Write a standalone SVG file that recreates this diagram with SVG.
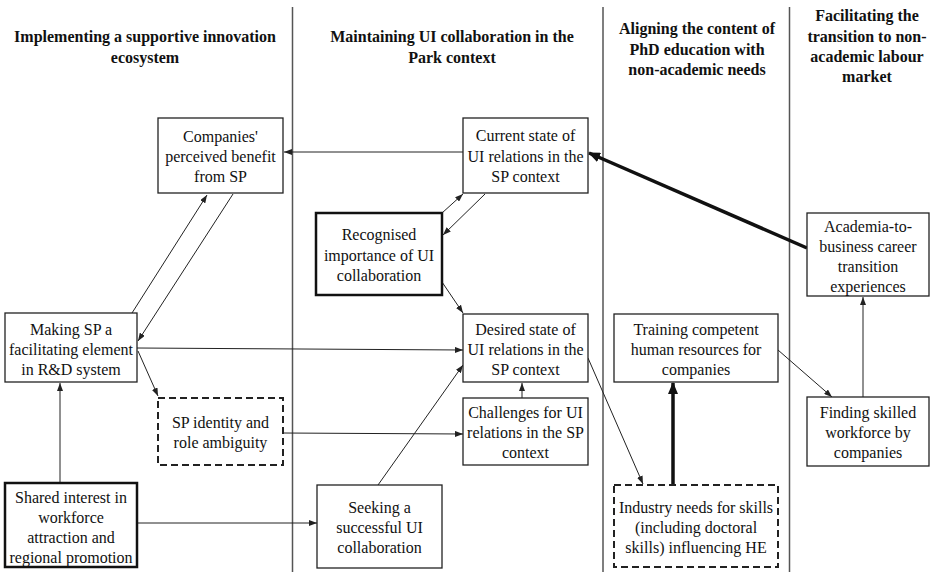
<svg xmlns="http://www.w3.org/2000/svg" width="930" height="572" viewBox="0 0 930 572">
<style>
.bg{fill:#fff}
.div{stroke:#555;stroke-width:1.5;fill:none}
.hd{font-family:"Liberation Serif","Times New Roman",serif;font-size:16px;font-weight:bold;fill:#111;text-anchor:middle}
.tx{font-family:"Liberation Serif","Times New Roman",serif;font-size:16px;fill:#111;text-anchor:middle}
.box{fill:#fff;stroke:#222;stroke-width:1.3}
.thick{fill:#fff;stroke:#111;stroke-width:2.5}
.dash{fill:#fff;stroke:#222;stroke-width:2;stroke-dasharray:7 4}
.ln{stroke:#222;stroke-width:1;fill:none;marker-end:url(#ah)}
.lnb{stroke:#111;stroke-width:3.5;fill:none;marker-end:url(#ahb)}
</style>
<defs>
<marker id="ah" markerUnits="userSpaceOnUse" markerWidth="8" markerHeight="6" refX="8" refY="3" orient="auto"><path d="M0,0 L8,3 L0,6 z" fill="#222"/></marker>
<marker id="ahb" markerUnits="userSpaceOnUse" markerWidth="12" markerHeight="10" refX="11" refY="5" orient="auto"><path d="M0,0 L12,5 L0,10 z" fill="#111"/></marker>
</defs>
<rect class="bg" x="0" y="0" width="930" height="572"/>
<g id="dividers">
<line class="div" x1="292.5" y1="7" x2="292.5" y2="572"/>
<line class="div" x1="603" y1="7" x2="603" y2="572"/>
<line class="div" x1="789.5" y1="7" x2="789.5" y2="572"/>
</g>
<g id="headers">
<text class="hd" x="145" y="42">Implementing a supportive innovation</text>
<text class="hd" x="145" y="63">ecosystem</text>
<text class="hd" x="452" y="42">Maintaining UI collaboration in the</text>
<text class="hd" x="452" y="63">Park context</text>
<text class="hd" x="697" y="34">Aligning the content of</text>
<text class="hd" x="697" y="55">PhD education with</text>
<text class="hd" x="697" y="75">non-academic needs</text>
<text class="hd" x="867" y="21">Facilitating the</text>
<text class="hd" x="867" y="42">transition to non-</text>
<text class="hd" x="867" y="62">academic labour</text>
<text class="hd" x="867" y="82">market</text>
</g>
<g id="connectors">
<line class="ln" x1="463" y1="152" x2="284" y2="152"/>
<line class="ln" x1="132" y1="313" x2="207" y2="195"/>
<line class="ln" x1="233" y1="194" x2="138" y2="341"/>
<line class="ln" x1="137" y1="348" x2="463" y2="350"/>
<line class="ln" x1="138" y1="351" x2="158" y2="396"/>
<line class="ln" x1="283" y1="433" x2="463" y2="434"/>
<line class="ln" x1="60" y1="483" x2="60" y2="383"/>
<line class="ln" x1="137" y1="523" x2="317" y2="523"/>
<line class="ln" x1="378" y1="485" x2="463" y2="365"/>
<line class="ln" x1="522" y1="398" x2="522" y2="383"/>
<line class="ln" x1="442" y1="282" x2="463" y2="313"/>
<line class="ln" x1="442" y1="213" x2="463" y2="194"/>
<line class="ln" x1="485" y1="194" x2="443" y2="235"/>
<line class="lnb" x1="807" y1="248" x2="589" y2="153"/>
<line class="ln" x1="863" y1="397" x2="863" y2="297"/>
<line class="ln" x1="778" y1="350" x2="832" y2="397"/>
<line class="lnb" x1="673" y1="485" x2="673" y2="383"/>
<line class="ln" x1="588" y1="358" x2="643" y2="484"/>
</g>
<g id="companies-benefit">
<rect class="box" x="158" y="118" width="125" height="75"/>
<text class="tx" x="220.5" y="142">Companies'</text>
<text class="tx" x="220.5" y="162">perceived benefit</text>
<text class="tx" x="220.5" y="182">from SP</text>
</g>
<g id="current-state">
<rect class="box" x="463" y="118" width="125" height="75"/>
<text class="tx" x="525.5" y="141">Current state of</text>
<text class="tx" x="525.5" y="162">UI relations in the</text>
<text class="tx" x="525.5" y="182">SP context</text>
</g>
<g id="recognised-importance">
<rect class="thick" x="316" y="213" width="126" height="82"/>
<text class="tx" x="379" y="240">Recognised</text>
<text class="tx" x="379" y="261">importance of UI</text>
<text class="tx" x="379" y="281">collaboration</text>
</g>
<g id="academia-business">
<rect class="box" x="807" y="213" width="122" height="83"/>
<text class="tx" x="868" y="232">Academia-to-</text>
<text class="tx" x="868" y="252">business career</text>
<text class="tx" x="868" y="272">transition</text>
<text class="tx" x="868" y="292">experiences</text>
</g>
<g id="making-sp">
<rect class="box" x="5" y="313" width="132" height="69"/>
<text class="tx" x="71" y="335">Making SP a</text>
<text class="tx" x="71" y="355">facilitating element</text>
<text class="tx" x="71" y="375">in R&amp;D system</text>
</g>
<g id="desired-state">
<rect class="box" x="463" y="314" width="125" height="68"/>
<text class="tx" x="525.5" y="335">Desired state of</text>
<text class="tx" x="525.5" y="355">UI relations in the</text>
<text class="tx" x="525.5" y="375">SP context</text>
</g>
<g id="training">
<rect class="box" x="614" y="314" width="164" height="68"/>
<text class="tx" x="696" y="335">Training competent</text>
<text class="tx" x="696" y="355">human resources for</text>
<text class="tx" x="696" y="375">companies</text>
</g>
<g id="sp-identity">
<rect class="dash" x="158" y="398" width="125" height="67"/>
<text class="tx" x="220.5" y="428">SP identity and</text>
<text class="tx" x="220.5" y="448">role ambiguity</text>
</g>
<g id="challenges">
<rect class="box" x="463" y="398" width="125" height="67"/>
<text class="tx" x="525.5" y="418">Challenges for UI</text>
<text class="tx" x="525.5" y="438">relations in the SP</text>
<text class="tx" x="525.5" y="458">context</text>
</g>
<g id="finding-workforce">
<rect class="box" x="807" y="397" width="122" height="69"/>
<text class="tx" x="868" y="418">Finding skilled</text>
<text class="tx" x="868" y="438">workforce by</text>
<text class="tx" x="868" y="458">companies</text>
</g>
<g id="shared-interest">
<rect class="thick" x="5" y="483" width="132" height="84"/>
<text class="tx" x="71" y="503">Shared interest in</text>
<text class="tx" x="71" y="523">workforce</text>
<text class="tx" x="71" y="543">attraction and</text>
<text class="tx" x="71" y="563">regional promotion</text>
</g>
<g id="seeking">
<rect class="box" x="317" y="485" width="125" height="83"/>
<text class="tx" x="379.5" y="513">Seeking a</text>
<text class="tx" x="379.5" y="533">successful UI</text>
<text class="tx" x="379.5" y="553">collaboration</text>
</g>
<g id="industry-needs">
<rect class="dash" x="614" y="485" width="164" height="82"/>
<text class="tx" x="696" y="513">Industry needs for skills</text>
<text class="tx" x="696" y="533">(including doctoral</text>
<text class="tx" x="696" y="553">skills) influencing HE</text>
</g>
</svg>
